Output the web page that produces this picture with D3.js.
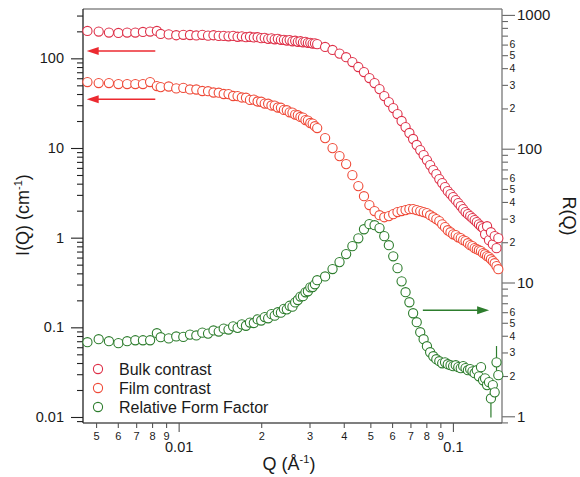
<!DOCTYPE html>
<html><head><meta charset="utf-8">
<script src="https://cdn.jsdelivr.net/npm/d3@7"></script>
<style>
html,body{margin:0;padding:0;background:#fff;}
svg{display:block;font-family:"Liberation Sans",Arial,Helvetica,sans-serif;}
</style></head><body>
<svg id="chart" width="580" height="477"></svg>
<script>
// Scattering vector Q (1/Å), shared by all three series
const qValues = [
  0.00465, 0.00511, 0.00557, 0.00603, 0.00649, 0.00695, 0.00741, 0.00787, 0.00833,
  0.0086, 0.0092, 0.0098, 0.0104, 0.0110, 0.0116, 0.0122, 0.0128, 0.0134, 0.0140,
  0.0146, 0.0152, 0.0158, 0.0164, 0.0170, 0.0176, 0.0182, 0.0188, 0.0194, 0.0200,
  0.0206, 0.0212, 0.0218, 0.0224, 0.0230, 0.0236, 0.0242, 0.0248, 0.0254, 0.0260,
  0.0266, 0.0272, 0.0278, 0.0284, 0.0290, 0.0296, 0.0302, 0.0308, 0.0314,
  0.0320, 0.0342, 0.0364, 0.0386, 0.0408, 0.0430, 0.0452, 0.0474, 0.0496, 0.0518,
  0.0540, 0.0562, 0.0584, 0.0606, 0.0628, 0.0650, 0.0672, 0.0694, 0.0716, 0.0738,
  0.0760, 0.0782, 0.0804, 0.0826, 0.0848, 0.0870, 0.0892, 0.0914, 0.0936, 0.0958,
  0.0980, 0.1002, 0.1024, 0.1046, 0.1068, 0.1090, 0.1112, 0.1134, 0.1156, 0.1178,
  0.1200, 0.1222, 0.1244, 0.1266, 0.1288, 0.1310, 0.1332, 0.1354, 0.1376, 0.1398,
  0.1420, 0.1442, 0.1464
];

// I(Q) in 1/cm, bulk contrast (left axis)
const bulkI = [
  202, 199, 194, 192, 194, 194, 197, 199, 202,
  187, 185, 181, 183, 182, 180, 183, 179, 181, 178,
  178, 176, 178, 174, 176, 172, 174, 171, 172, 168,
  169, 165, 167, 163, 165, 161, 161, 158, 160, 155,
  157, 153, 155, 151, 153, 149, 149, 146, 147,
  144, 134, 124, 113, 103, 90.9, 80.0, 70.3, 60.3, 53.0,
  45.4, 37.9, 32.5, 27.9, 23.9, 20.0, 17.1, 14.7, 12.6, 10.8,
  9.48, 8.33, 7.33, 6.45, 5.67, 5.11, 4.50, 4.06, 3.66, 3.30,
  3.06, 2.83, 2.62, 2.43, 2.25, 2.08, 1.93, 1.83, 1.74, 1.65,
  1.57, 1.49, 1.41, 1.34, 1.28, 1.09, 1.34, 0.938, 1.15, 0.846,
  1.04, 0.764, 0.987
];

// I(Q) in 1/cm, film contrast (left axis)
const filmI = [
  54.4, 53.0, 53.0, 51.7, 51.7, 51.7, 51.7, 54.4, 49.1,
  47.8, 48.5, 46.2, 46.8, 45.0, 44.9, 43.2, 43.0, 41.6, 41.4,
  40.0, 39.9, 38.0, 37.9, 36.6, 36.4, 34.4, 34.6, 33.0, 32.8,
  31.3, 31.2, 29.8, 29.7, 28.3, 28.1, 26.6, 26.4, 25.0, 24.8,
  23.6, 23.2, 22.2, 21.8, 20.5, 20.2, 19.0, 18.7, 17.5,
  16.7, 12.9, 9.97, 8.12, 6.61, 4.98, 3.76, 2.90, 2.31, 1.98,
  1.78, 1.69, 1.74, 1.83, 1.93, 1.98, 2.03, 2.08, 2.08, 2.03,
  1.98, 1.93, 1.88, 1.78, 1.69, 1.61, 1.53, 1.41, 1.31, 1.21,
  1.15, 1.09, 1.07, 1.01, 0.987, 0.938, 0.914, 0.868, 0.825, 0.804,
  0.764, 0.744, 0.725, 0.707, 0.672, 0.654, 0.622, 0.606, 0.575, 0.547,
  0.519, 0.481, 0.445
];

// R(Q), relative form factor (right axis)
const formR = [
  3.58, 3.77, 3.64, 3.52, 3.64, 3.70, 3.70, 3.70, 4.18,
  3.90, 3.82, 3.95, 3.92, 4.08, 4.02, 4.22, 4.15, 4.38, 4.30,
  4.52, 4.45, 4.70, 4.58, 4.86, 4.75, 5.02, 4.98, 5.30, 5.20,
  5.52, 5.40, 5.80, 5.65, 6.00, 5.95, 6.35, 6.30, 6.70, 6.60,
  7.10, 7.40, 7.85, 7.90, 8.45, 8.60, 9.20, 9.25, 9.70,
  10.4, 11.1, 12.6, 14.2, 16.3, 18.7, 21.4, 25.0, 27.3, 26.8,
  25.5, 22.2, 19.0, 15.7, 12.8, 10.2, 8.46, 7.12, 5.89, 5.05,
  4.25, 3.77, 3.34, 3.01, 2.81, 2.67, 2.58, 2.49, 2.53, 2.45,
  2.41, 2.37, 2.41, 2.33, 2.29, 2.37, 2.29, 2.21, 2.25, 2.17,
  2.10, 2.21, 1.99, 2.33, 1.86, 1.92, 1.71, 1.80, 1.36, 1.71,
  1.51, 2.53, 2.03
];

// Error bars on the last few high-Q points
const errSeries = ["bulk", "form", "form"];
const errQ  = [0.1376, 0.1376, 0.1442];
const errLo = [0.75, 0.98, 1.95];
const errHi = [1.15, 1.60, 3.35];

// Axis tick values and labels
const leftMajor = [0.01, 0.1, 1, 10, 100];
const leftMajorLabels = ["0.01", "0.1", "1", "10", "100"];
const rightMajor = [1, 10, 100, 1000];
const rightMajorLabels = ["1", "10", "100", "1000"];
const rightMinorDigitsLabelled = [2, 3, 4, 5, 6];
const rightMinorDigitsPlain = [7, 8, 9];
const bottomMajor = [0.01, 0.1];
const bottomMajorLabels = ["0.01", "0.1"];

// Series legend
const seriesNames = ["Bulk contrast", "Film contrast", "Relative Form Factor"];
const seriesColors = ["#de3048", "#ef4a38", "#2d7d2d"];

// Arrows pointing each curve to its axis
const arrowQFrom = [0.00822, 0.00822, 0.0777];
const arrowQTo   = [0.00462, 0.00462, 0.1355];
const arrowValue = [121, 34.9, 6.21];
const arrowAxis  = ["left", "left", "right"];
const arrowColors = ["#ec2a30", "#ec2a30", "#2d7d2d"];

const svg = d3.select("#chart");
const L = 83, R = 502, T = 9, B = 423;

const x = d3.scaleLog().domain([0.00448, 0.151]).range([L, R]);
const yL = d3.scaleLog().domain([0.00857, 355]).range([B, T]);
const yR = d3.scaleLog().domain([0.891, 1107]).range([B, T]);

function decadeTicks(domain, digits) {
  const out = [];
  const lo = Math.floor(Math.log10(domain[0])), hi = Math.ceil(Math.log10(domain[1]));
  for (let e = lo; e <= hi; e++) {
    digits.forEach(d => {
      const v = +(d * Math.pow(10, e)).toPrecision(6);
      if (v >= domain[0] && v <= domain[1]) out.push(v);
    });
  }
  return out;
}

function styleAxis(g, fontSize, color) {
  g.select(".domain").remove();
  g.selectAll("line").attr("stroke", color).attr("stroke-width", 1.1);
  g.selectAll("text").attr("font-size", fontSize).attr("fill", "#1a1a1a")
    .attr("font-family", '"Liberation Sans",Arial,Helvetica,sans-serif');
}

// Left axis
const leftMinor = decadeTicks(yL.domain(), [2, 3, 4, 5, 6, 7, 8, 9]);
svg.append("g").attr("transform", `translate(${L},0)`)
  .call(d3.axisLeft(yL).tickValues(leftMinor).tickSize(6).tickFormat(""))
  .call(g => styleAxis(g, 10, "#222"));
svg.append("g").attr("transform", `translate(${L},0)`)
  .call(d3.axisLeft(yL).tickValues(leftMajor).tickSize(12).tickPadding(7)
    .tickFormat((d, i) => leftMajorLabels[i]))
  .call(g => styleAxis(g, 14.5, "#222"));

// Right axis
svg.append("g").attr("transform", `translate(${R},0)`)
  .call(d3.axisRight(yR).tickValues(decadeTicks(yR.domain(), rightMinorDigitsPlain)).tickSize(6).tickFormat(""))
  .call(g => styleAxis(g, 10, "#666"));
svg.append("g").attr("transform", `translate(${R},0)`)
  .call(d3.axisRight(yR).tickValues(decadeTicks(yR.domain(), rightMinorDigitsLabelled)).tickSize(6).tickPadding(1.5)
    .tickFormat(d => String(Math.round(d / Math.pow(10, Math.floor(Math.log10(d) + 1e-9))))))
  .call(g => styleAxis(g, 10.5, "#666"));
svg.append("g").attr("transform", `translate(${R},0)`)
  .call(d3.axisRight(yR).tickValues(rightMajor).tickSize(13).tickPadding(2)
    .tickFormat((d, i) => rightMajorLabels[i]))
  .call(g => styleAxis(g, 15, "#666"));

// Bottom axis
const bottomMinor = decadeTicks(x.domain(), [2, 3, 4, 5, 6, 7, 8, 9]);
svg.append("g").attr("transform", `translate(0,${B})`)
  .call(d3.axisBottom(x).tickValues(bottomMinor).tickSize(5).tickPadding(4)
    .tickFormat(d => String(Math.round(d / Math.pow(10, Math.floor(Math.log10(d) + 1e-9))))))
  .call(g => styleAxis(g, 11, "#555"));
svg.append("g").attr("transform", `translate(0,${B})`)
  .call(d3.axisBottom(x).tickValues(bottomMajor).tickSize(9).tickPadding(10)
    .tickFormat((d, i) => bottomMajorLabels[i]))
  .call(g => styleAxis(g, 14.5, "#555"));

// Frame
svg.append("line").attr("x1", L).attr("x2", R).attr("y1", T).attr("y2", T).attr("stroke", "#888").attr("stroke-width", 1.5);
svg.append("line").attr("x1", R).attr("x2", R).attr("y1", T).attr("y2", B).attr("stroke", "#777").attr("stroke-width", 1.3);
svg.append("line").attr("x1", L).attr("x2", R).attr("y1", B).attr("y2", B).attr("stroke", "#555").attr("stroke-width", 1.3);
svg.append("line").attr("x1", L).attr("x2", L).attr("y1", T).attr("y2", B).attr("stroke", "#222").attr("stroke-width", 1.3);

// Axis titles
const yt = svg.append("text").attr("transform", "translate(29,215) rotate(-90)")
  .attr("text-anchor", "middle").attr("font-size", 18).attr("fill", "#1a1a1a");
yt.append("tspan").text("I(Q) (cm");
yt.append("tspan").attr("dy", -7).attr("font-size", 11).text("-1");
yt.append("tspan").attr("dy", 7).text(")");

const rt = svg.append("text").attr("transform", "translate(563,216) rotate(90)")
  .attr("text-anchor", "middle").attr("font-size", 18).attr("fill", "#1a1a1a").text("R(Q)");

const xt = svg.append("text").attr("x", 289).attr("y", 470)
  .attr("text-anchor", "middle").attr("font-size", 18).attr("fill", "#1a1a1a");
xt.append("tspan").text("Q (Å");
xt.append("tspan").attr("dy", -7).attr("font-size", 11).text("-1");
xt.append("tspan").attr("dy", 7).text(")");

// Error bars
errQ.forEach((q, i) => {
  const ys = errSeries[i] === "form" ? yR : yL;
  const col = errSeries[i] === "form" ? seriesColors[2] : seriesColors[0];
  svg.append("line").attr("x1", x(q)).attr("x2", x(q))
    .attr("y1", ys(errLo[i])).attr("y2", ys(errHi[i]))
    .attr("stroke", col).attr("stroke-width", 1.2);
});

// Data markers
const series = [
  { values: formR, scale: yR, color: seriesColors[2] },
  { values: filmI, scale: yL, color: seriesColors[1] },
  { values: bulkI, scale: yL, color: seriesColors[0] }
];
series.forEach(s => {
  svg.append("g").selectAll("circle")
    .data(qValues.map((q, i) => [q, s.values[i]]))
    .join("circle")
    .attr("cx", d => x(d[0])).attr("cy", d => s.scale(d[1]))
    .attr("r", 4.6).attr("fill", "#fff")
    .attr("stroke", s.color).attr("stroke-width", 1.1);
});

// Arrows
arrowQFrom.forEach((q0, i) => {
  const ys = arrowAxis[i] === "right" ? yR : yL;
  const x0 = x(q0), x1 = x(arrowQTo[i]), yy = ys(arrowValue[i]);
  const dir = Math.sign(x1 - x0);
  const headLen = 12, headHalf = 4;
  svg.append("line").attr("x1", x0).attr("x2", x1 - dir * headLen * 0.6)
    .attr("y1", yy).attr("y2", yy).attr("stroke", arrowColors[i]).attr("stroke-width", 1.5);
  svg.append("path")
    .attr("d", `M${x1},${yy} L${x1 - dir * headLen},${yy - headHalf} L${x1 - dir * headLen},${yy + headHalf} Z`)
    .attr("fill", arrowColors[i]);
});

// Legend
const legend = svg.append("g");
seriesNames.forEach((name, i) => {
  const ly = 369 + i * 19;
  legend.append("circle").attr("cx", 98).attr("cy", ly).attr("r", 4.6)
    .attr("fill", "#fff").attr("stroke", seriesColors[i]).attr("stroke-width", 1.1);
  legend.append("text").attr("x", 119).attr("y", ly + 5.5)
    .attr("font-size", 16).attr("fill", "#1a1a1a").text(name);
});
</script>
</body></html>
